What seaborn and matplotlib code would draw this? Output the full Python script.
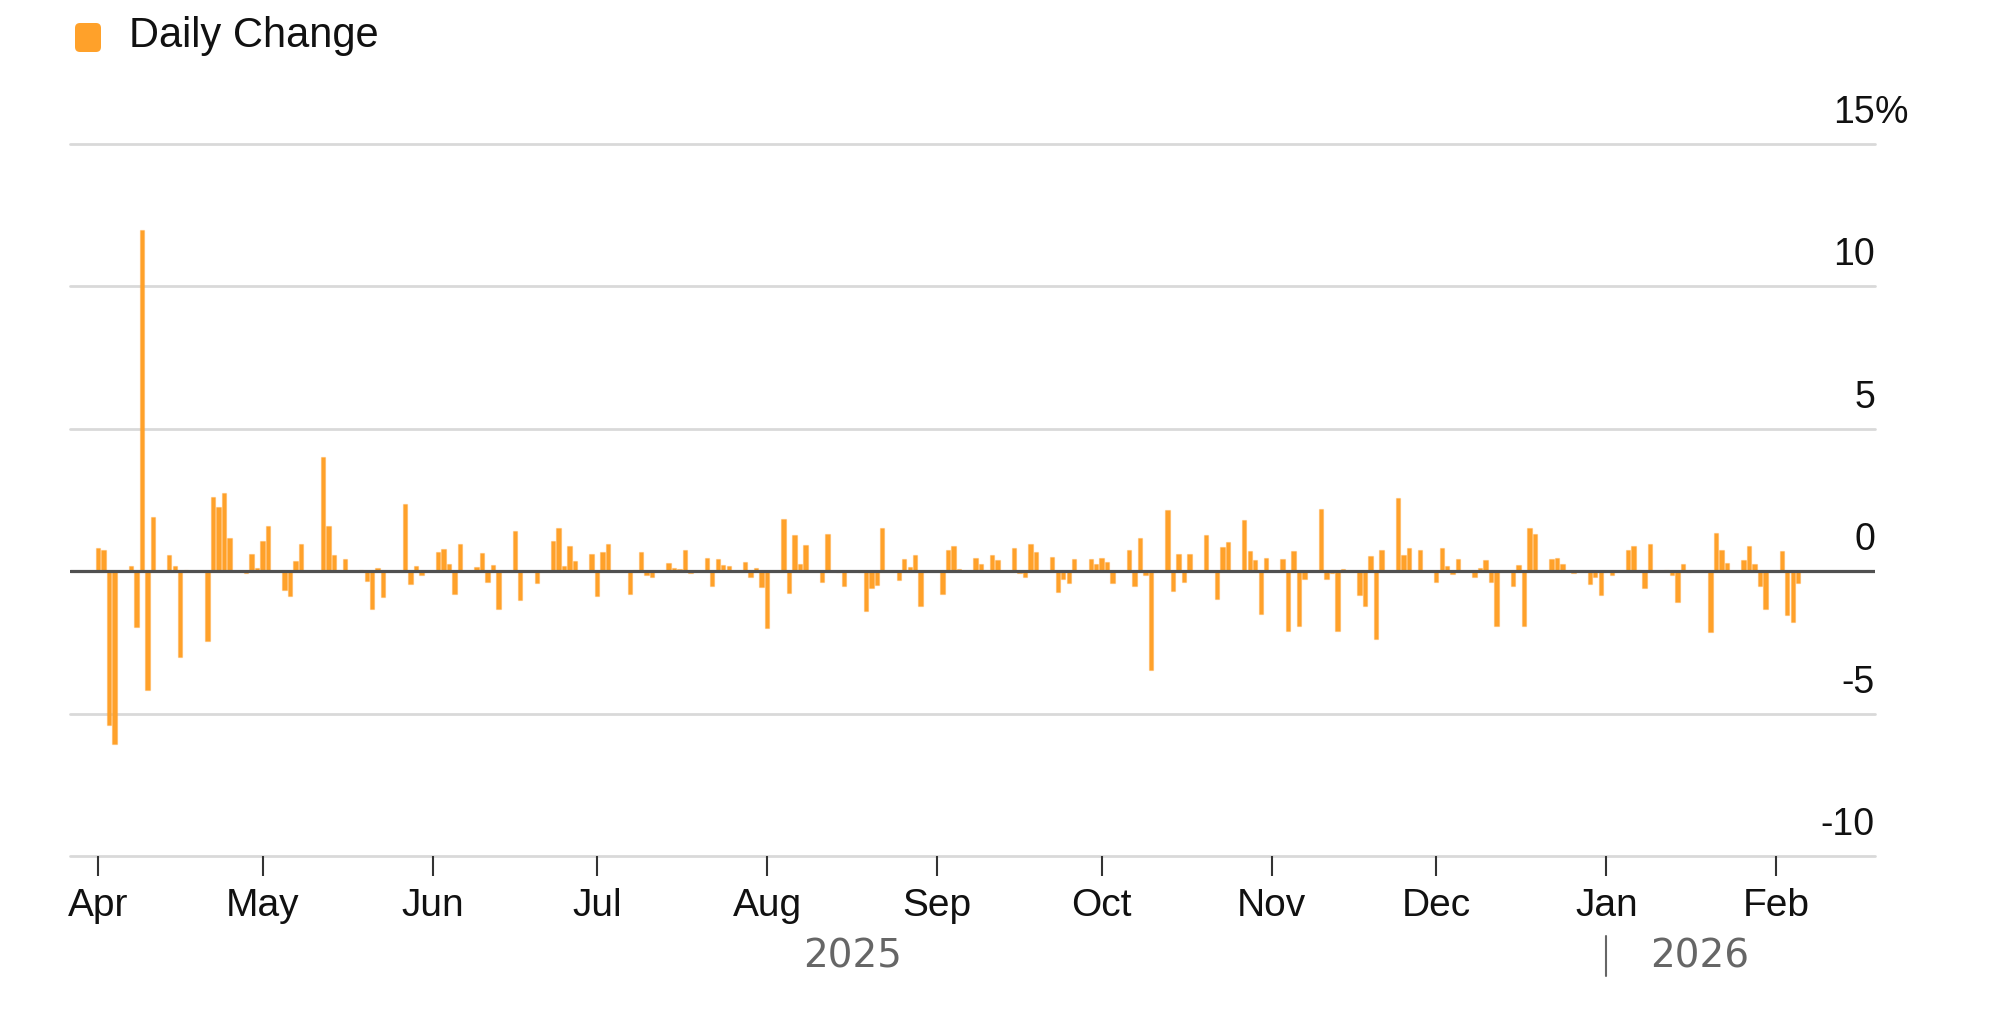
import pandas as pd
import matplotlib
matplotlib.use("Agg")
import matplotlib.pyplot as plt
import matplotlib.dates as mdates
import matplotlib.transforms as mtransforms
from matplotlib.patches import FancyBboxPatch
import seaborn as sns

# ── Data: daily % change ──────────────────────────────
START, END = "2025-04-01", "2026-02-05"
HOLIDAYS = ["2025-04-18", "2025-05-26", "2025-06-19", "2025-07-04", "2025-09-01",
            "2025-11-27", "2025-12-25", "2026-01-01", "2026-01-19"]

apr = [0.81, 0.73, -5.40, -6.05, 0.19, -1.95, 11.98, -4.16, 1.90, 0.56, 0.19,
       -3.00, 0.05, -2.46, 2.60, 2.27, 2.75, 1.15, -0.05, 0.59, 0.12]
may = [1.06, 1.59, -0.66, -0.87, 0.35, 0.97, 0.02, 4.00, 1.59, 0.56, 0.05,
       0.44, 0.05, -0.35, -1.34, 0.12, -0.92, 2.37, -0.46, 0.19, -0.12]
jun = [0.68, 0.77, 0.25, -0.81, 0.95, 0.14, 0.64, -0.37, 0.21, -1.31,
       1.40, -1.02, 0.02, -0.43, 1.05, 1.52, 0.19, 0.90, 0.35, 0.60]
jul = [-0.88, 0.69, 0.96, -0.81, 0.03, 0.68, -0.12, -0.20, 0.29, 0.12, 0.08,
       0.74, -0.06, 0.48, -0.51, 0.42, 0.21, 0.20, 0.34, -0.20, 0.12, -0.55]
aug = [-1.98, 1.84, -0.75, 1.27, 0.27, 0.91, -0.37, 1.29, 0.02, -0.02, -0.53,
       -0.02, -1.40, -0.58, -0.47, 1.50, -0.32, 0.42, 0.14, 0.56, -1.23]
sep = [-0.79, 0.76, 0.89, 0.06, 0.45, 0.27, 0.03, 0.58, 0.41, 0.82, -0.05,
       -0.20, 0.94, 0.67, 0.50, -0.72, -0.29, -0.43, 0.42, 0.42, 0.25]
oct_ = [0.45, 0.33, -0.41, 0.74, -0.53, 1.17, -0.12, -3.47, 2.15, -0.69, 0.62,
        -0.37, 0.62, 1.26, -0.02, -0.99, 0.85, 1.01, 1.79, 0.72, 0.39, -1.49, 0.45]
nov = [0.42, -2.09, 0.70, -1.93, -0.29, 2.19, -0.29, -0.05, -2.09, 0.06,
       -0.84, -1.21, 0.54, -2.38, 0.74, 2.58, 0.56, 0.83, 0.74]
dec = [-0.37, 0.80, 0.18, -0.10, 0.42, -0.22, 0.12, 0.41, -0.37, -1.92, -0.51,
       0.21, -1.93, 1.50, 1.29, 0.42, 0.48, 0.25, -0.05, -0.46, -0.20, -0.84]
jan = [-0.14, 0.74, 0.89, 0.03, -0.58, 0.97, 0.04, -0.14, -1.08, 0.27,
       -0.03, -2.15, 1.35, 0.74, 0.30, 0.41, 0.88, 0.27, -0.53, -1.31]
feb = [0.72, -1.54, -1.78, -0.43]

changes = apr + may + jun + jul + aug + sep + oct_ + nov + dec + jan + feb
dates = pd.bdate_range(START, END, freq="C", holidays=HOLIDAYS)

YTICKS  = [15, 10, 5, 0, -5, -10]
YLABELS = ["15", "10", "5", "0", "-5", "-10"]
YEARS   = ["2025", "2026"]
LEGEND  = "Daily Change"

df = pd.DataFrame({"date": mdates.date2num(dates), "change": changes})

# ── Style ─────────────────────────────────────────────
ORANGE = "#ffa12a"
GRID   = "#d9d9d9"
sns.set_theme(style="white")
plt.rcParams["font.family"] = ["Liberation Sans", "DejaVu Sans"]

W, H, DPI = 2000, 1031, 100
fig = plt.figure(figsize=(W / DPI, H / DPI), dpi=DPI, facecolor="white")
ax = fig.add_axes([70 / W, (H - 856) / H, 1805 / W, (856 - 144) / H])

sns.barplot(data=df, x="date", y="change", native_scale=True, orient="x",
            color=ORANGE, saturation=1, width=0.8, errorbar=None,
            edgecolor=(1.0, 0.63, 0.16, 0.35), linewidth=0.9, ax=ax, zorder=2)

# ── Axes ──────────────────────────────────────────────
t0 = pd.Timestamp(START)
ax.set_xlim(mdates.date2num(t0 - pd.Timedelta(days=5.1)),
            mdates.date2num(t0 + pd.Timedelta(days=324)))
ax.set_ylim(-10, 15)
for s in ax.spines.values():
    s.set_visible(False)

# gridlines (incl. the bottom one at -10) and the dark zero line on top of the bars
for v in YTICKS:
    if v != 0:
        ax.axhline(v, color=GRID, lw=2.0, zorder=0, clip_on=False)
ax.axhline(0, color="#505050", lw=2.3, zorder=3)

ax.set_xlabel("")
ax.set_ylabel("")
ax.set_yticks([])
ax.xaxis.set_major_locator(mdates.MonthLocator())
ax.xaxis.set_major_formatter(mdates.DateFormatter("%b"))
ax.tick_params(axis="x", which="major", bottom=True, direction="out", length=14.4,
               width=1.5, color="#333333", pad=8.5, labelsize=28, labelcolor="#111111")

# y labels sit above their gridline, right-aligned at the edge
trans = mtransforms.blended_transform_factory(ax.transAxes, ax.transData)
lab_trans = mtransforms.offset_copy(trans, fig=fig, x=0, y=21, units="dots")
for v, lab in zip(YTICKS, YLABELS):
    ax.text(1.0, v, lab, transform=lab_trans, ha="right", va="baseline",
            fontsize=27, color="#111111")
ax.text(1.0, YTICKS[0], "%", transform=lab_trans, ha="left", va="baseline",
        fontsize=27, color="#111111")

# year labels under the month ticks
jan1 = mdates.date2num(pd.Timestamp("2026-01-01"))
mid25 = (mdates.date2num(t0) + jan1) / 2
ax.annotate(YEARS[0], xy=(mid25, (H - 967) / H), xycoords=("data", "figure fraction"),
            ha="center", va="baseline", fontsize=28, color="#666666",
            family="DejaVu Sans", annotation_clip=False)
ax.annotate(YEARS[1], xy=(jan1, (H - 967) / H), xycoords=("data", "figure fraction"),
            xytext=(31.7, 0), textcoords="offset points",
            ha="left", va="baseline", fontsize=28, color="#666666",
            family="DejaVu Sans", annotation_clip=False)
sep_trans = mtransforms.blended_transform_factory(ax.transData, fig.transFigure)
ax.plot([jan1, jan1], [(H - 976) / H, (H - 936) / H], transform=sep_trans,
        color="#666666", lw=1.5, clip_on=False)

# legend
fig.add_artist(FancyBboxPatch((0.75, (H - 52) / DPI), 0.26, 0.29,
                              boxstyle="round,pad=0,rounding_size=0.05",
                              transform=fig.dpi_scale_trans, color=ORANGE, lw=0))
fig.text(129 / W, (H - 47) / H, LEGEND, ha="left", va="baseline",
         fontsize=30, color="#111111")

fig.savefig("out.png", dpi=DPI, facecolor="white")
